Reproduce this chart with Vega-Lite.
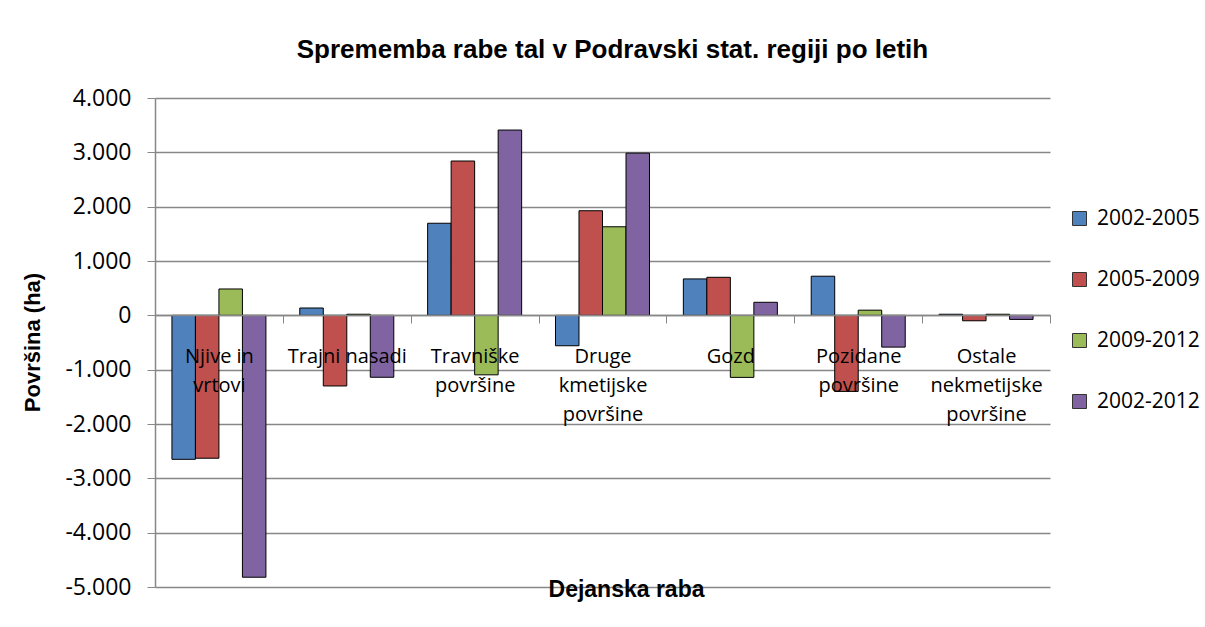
{
  "$schema": "https://vega.github.io/schema/vega-lite/v6.json",
  "autosize": {"type": "none"},
  "padding": {"left": 155, "top": 98, "right": 155, "bottom": 40},
  "width": 895,
  "height": 489,
  "background": "white",
  "config": {
    "locale": {"number": {"decimal": ",", "thousands": ".", "grouping": [3], "currency": ["", " €"], "minus": "-"}},
    "view": {"stroke": null},
    "axis": {"domainColor": "#878787", "tickColor": "#878787", "gridColor": "#878787", "labelColor": "#000000", "titleColor": "#000000"}
  },
  "title": {
    "text": "Sprememba rabe tal v Podravski stat. regiji po letih",
    "font": "Liberation Sans",
    "fontSize": 26,
    "fontWeight": "bold",
    "color": "#000000",
    "anchor": "middle",
    "frame": "group",
    "dx": 10,
    "offset": 24
  },
  "data": {
    "values": [
      {"raba": "Njive in vrtovi", "obdobje": "2002-2005", "povrsina": -2650},
      {"raba": "Njive in vrtovi", "obdobje": "2005-2009", "povrsina": -2630},
      {"raba": "Njive in vrtovi", "obdobje": "2009-2012", "povrsina": 485},
      {"raba": "Njive in vrtovi", "obdobje": "2002-2012", "povrsina": -4820},
      {"raba": "Trajni nasadi", "obdobje": "2002-2005", "povrsina": 135},
      {"raba": "Trajni nasadi", "obdobje": "2005-2009", "povrsina": -1300},
      {"raba": "Trajni nasadi", "obdobje": "2009-2012", "povrsina": 20},
      {"raba": "Trajni nasadi", "obdobje": "2002-2012", "povrsina": -1140},
      {"raba": "Travniške površine", "obdobje": "2002-2005", "povrsina": 1695},
      {"raba": "Travniške površine", "obdobje": "2005-2009", "povrsina": 2840},
      {"raba": "Travniške površine", "obdobje": "2009-2012", "povrsina": -1095},
      {"raba": "Travniške površine", "obdobje": "2002-2012", "povrsina": 3410},
      {"raba": "Druge kmetijske površine", "obdobje": "2002-2005", "povrsina": -560},
      {"raba": "Druge kmetijske površine", "obdobje": "2005-2009", "povrsina": 1925},
      {"raba": "Druge kmetijske površine", "obdobje": "2009-2012", "povrsina": 1630},
      {"raba": "Druge kmetijske površine", "obdobje": "2002-2012", "povrsina": 2985},
      {"raba": "Gozd", "obdobje": "2002-2005", "povrsina": 670},
      {"raba": "Gozd", "obdobje": "2005-2009", "povrsina": 700},
      {"raba": "Gozd", "obdobje": "2009-2012", "povrsina": -1142},
      {"raba": "Gozd", "obdobje": "2002-2012", "povrsina": 240},
      {"raba": "Pozidane površine", "obdobje": "2002-2005", "povrsina": 720},
      {"raba": "Pozidane površine", "obdobje": "2005-2009", "povrsina": -1400},
      {"raba": "Pozidane površine", "obdobje": "2009-2012", "povrsina": 95},
      {"raba": "Pozidane površine", "obdobje": "2002-2012", "povrsina": -585},
      {"raba": "Ostale nekmetijske površine", "obdobje": "2002-2005", "povrsina": 20},
      {"raba": "Ostale nekmetijske površine", "obdobje": "2005-2009", "povrsina": -100},
      {"raba": "Ostale nekmetijske površine", "obdobje": "2009-2012", "povrsina": 20},
      {"raba": "Ostale nekmetijske površine", "obdobje": "2002-2012", "povrsina": -75}
    ]
  },
  "mark": {"type": "bar", "stroke": "#000000", "strokeWidth": 1},
  "encoding": {
    "x": {
      "field": "raba",
      "type": "nominal",
      "sort": null,
      "scale": {"paddingInner": 0, "paddingOuter": 0},
      "axis": {
        "zindex": 1,
        "title": "Dejanska raba",
        "titleFont": "Liberation Sans",
        "titleFontSize": 23,
        "titleFontWeight": "bold",
        "titleX": 471,
        "titleY": 274,
        "titleAlign": "center",
        "titleBaseline": "middle",
        "offset": -272,
        "labelAngle": 0,
        "labelFont": "Open Sans",
        "labelFontSize": 20,
        "labelLineHeight": 29,
        "labelBaseline": "top",
        "labelPadding": 23,
        "labelLimit": 200,
        "labelExpr": "datum.label == 'Njive in vrtovi' ? ['Njive in', 'vrtovi'] : datum.label == 'Trajni nasadi' ? datum.label : split(datum.label, ' ')",
        "tickBand": "extent",
        "tickSize": 8,
        "domainWidth": 1.5
      }
    },
    "xOffset": {
      "field": "obdobje",
      "type": "nominal",
      "sort": ["2002-2005", "2005-2009", "2009-2012", "2002-2012"],
      "scale": {"paddingInner": 0, "paddingOuter": 0.72}
    },
    "y": {
      "field": "povrsina",
      "type": "quantitative",
      "scale": {"domain": [-5000, 4000], "nice": false, "zero": false},
      "axis": {
        "title": "Površina (ha)",
        "titleFont": "Liberation Sans",
        "titleFontSize": 22,
        "titleFontWeight": "bold",
        "titleAngle": -90,
        "titleX": -123,
        "titleY": 244,
        "titleAlign": "center",
        "titleBaseline": "middle",
        "values": [-5000, -4000, -3000, -2000, -1000, 0, 1000, 2000, 3000, 4000],
        "format": ",d",
        "labelFont": "Open Sans",
        "labelFontSize": 23,
        "labelPadding": 16,
        "tickSize": 8,
        "grid": true,
        "gridWidth": 1.5,
        "domainWidth": 1.5
      }
    },
    "color": {
      "field": "obdobje",
      "type": "nominal",
      "scale": {
        "domain": ["2002-2005", "2005-2009", "2009-2012", "2002-2012"],
        "range": ["#4F81BD", "#C0504D", "#9BBB59", "#8064A2"]
      },
      "legend": {
        "title": null,
        "orient": "none",
        "legendX": 914,
        "legendY": 110,
        "padding": 0,
        "symbolType": "square",
        "symbolSize": 196,
        "symbolStrokeColor": "#333333",
        "symbolStrokeWidth": 1,
        "labelFont": "Open Sans",
        "labelFontSize": 21,
        "labelColor": "#000000",
        "labelOffset": 7,
        "rowPadding": 39
      }
    }
  }
}
